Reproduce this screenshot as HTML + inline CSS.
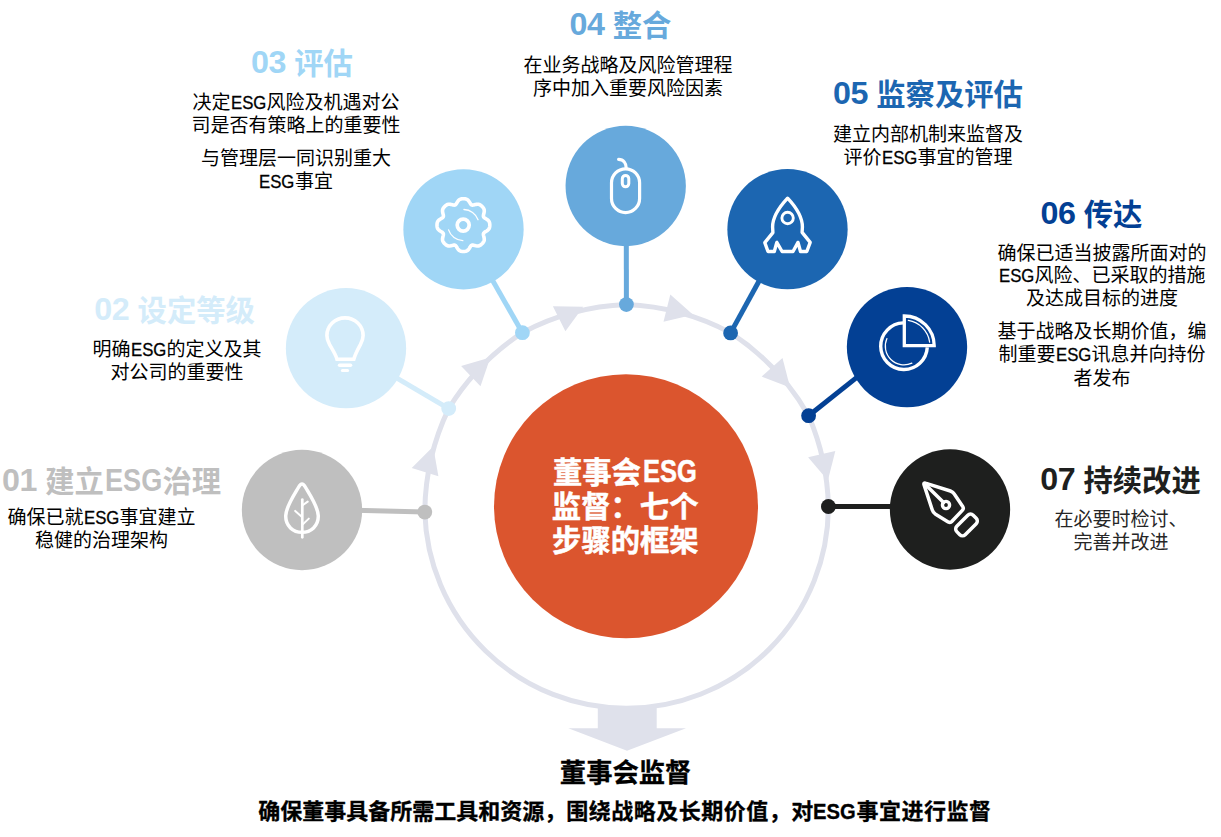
<!DOCTYPE html>
<html lang="zh-CN">
<head>
<meta charset="utf-8">
<title>董事会ESG监督：七个步骤的框架</title>
<style>
html,body{margin:0;padding:0;background:#fff;}
body{width:1221px;height:837px;position:relative;overflow:hidden;font-family:"Liberation Sans", "Noto Sans CJK SC", sans-serif;}
#g{position:absolute;left:0;top:0;}
h1{margin:0;font-size:inherit;font-weight:inherit;}
.t{position:absolute;margin:0;padding:0;width:800px;text-align:center;white-space:nowrap;}
.l{display:inline-block;font-size:.95em;transform:scaleX(.93);transform-origin:0 50%;margin-left:.02em;margin-right:-.127em;-webkit-text-stroke:.3px currentColor;}
.lb2{display:inline-block;font-size:1.02em;transform:scaleX(.9);transform-origin:0 50%;margin-left:0;margin-right:-.19em;}
.sp{letter-spacing:.5px;}
.sb{letter-spacing:.5px;}
.b{-webkit-text-stroke:.3px #000;}
.c{-webkit-text-stroke:.5px #fff;}
.n{font-size:1.1em;letter-spacing:-.4px;position:relative;top:-1px;}
.lb{display:inline-block;font-size:1.1em;transform:scaleX(.84);transform-origin:0 50%;margin-left:.04em;margin-right:-.335em;position:relative;top:-1px;}
</style>
</head>
<body>
<svg id="g" width="1221" height="837" viewBox="0 0 1221 837">
<path d="M424.8 512.1 A243 243 0 0 1 448.7 408.6 A243 243 0 0 1 522.4 332.7 A243 243 0 0 1 626.4 304.6 A243 243 0 0 1 730.6 332.9 A243 243 0 0 1 808.6 415.7 A243 243 0 0 1 828.4 506.5 A201.7 201.8 0 0 1 626.0 708.2 A201.7 201.8 0 0 1 424.8 512.1 Z" fill="none" stroke="#dfe1eb" stroke-width="5" stroke-linejoin="round"/>
<polygon points="433.2,446.4 438.4,476.3 411.7,467.9" fill="#dfe1eb"/>
<polygon points="490.3,357.5 480.5,386.3 461.1,366.0" fill="#dfe1eb"/>
<polygon points="583.3,306.7 565.4,331.3 552.9,306.3" fill="#dfe1eb"/>
<polygon points="693.1,314.8 663.5,321.7 670.3,294.6" fill="#dfe1eb"/>
<polygon points="790.1,387.4 761.7,376.6 782.5,358.0" fill="#dfe1eb"/>
<polygon points="827.9,480.4 808.1,457.3 835.3,450.9" fill="#dfe1eb"/>
<polygon points="597.8,706 656.7,706 656.7,728.2 686,728.2 627,750.8 568.3,728.2 597.8,728.2" fill="#dfe1eb"/>
<line x1="355.0" y1="510.3" x2="424.8" y2="512.1" stroke="#bfbfbf" stroke-width="5"/>
<circle cx="424.8" cy="512.1" r="7.4" fill="#bfbfbf"/>
<line x1="346.0" y1="348.2" x2="448.7" y2="408.6" stroke="#d4ecfa" stroke-width="5"/>
<circle cx="448.7" cy="408.6" r="7.4" fill="#d4ecfa"/>
<line x1="463.5" y1="229.3" x2="522.4" y2="332.7" stroke="#a0d6f6" stroke-width="5"/>
<circle cx="522.4" cy="332.7" r="7.4" fill="#a0d6f6"/>
<line x1="626.3" y1="240.0" x2="626.4" y2="304.6" stroke="#67a9dc" stroke-width="5"/>
<circle cx="626.4" cy="304.6" r="7.4" fill="#67a9dc"/>
<line x1="787.5" y1="229.2" x2="730.6" y2="332.9" stroke="#1c66b1" stroke-width="5"/>
<circle cx="730.6" cy="332.9" r="7.4" fill="#1c66b1"/>
<line x1="858.7" y1="375.9" x2="808.6" y2="415.7" stroke="#034094" stroke-width="5"/>
<circle cx="808.6" cy="415.7" r="7.4" fill="#034094"/>
<line x1="895.0" y1="506.5" x2="828.4" y2="506.5" stroke="#1e1f1e" stroke-width="5"/>
<circle cx="828.4" cy="506.5" r="7.4" fill="#1e1f1e"/>
<circle cx="302.0" cy="510.0" r="60.15" fill="#bfbfbf"/>
<circle cx="346.0" cy="348.2" r="60.15" fill="#d4ecfa"/>
<circle cx="463.5" cy="229.3" r="60.15" fill="#a0d6f6"/>
<circle cx="625.7" cy="186.0" r="60.15" fill="#67a9dc"/>
<circle cx="787.5" cy="229.2" r="60.15" fill="#1c66b1"/>
<circle cx="907.0" cy="347.1" r="60.15" fill="#034094"/>
<circle cx="950.0" cy="509.5" r="60.15" fill="#1e1f1e"/>
<circle cx="626" cy="506.2" r="132" fill="#db552e"/>
<g fill="none" stroke="#fff" stroke-linecap="round" stroke-linejoin="round" stroke-width="3.5"><path d="M298.7 487 C299.8 485 300.8 483.9 302 483.9 C303.2 483.9 304.2 485 305.3 487 C309 493.5 318.3 507 318.3 516 C318.3 526 311 532.3 302 532.3 C293 532.3 285.7 526 285.7 516 C285.7 507 295 493.5 298.7 487 Z"/></g>
<g fill="none" stroke="#fff" stroke-linecap="round" stroke-linejoin="round"><path d="M302.3 499.6 V537.3" stroke-width="2.7"/><path d="M302.6 505.3 L307.7 501.6 M302 517 L295.2 510.9 M302.8 524.4 L308.8 518.6" stroke-width="2"/></g>
<g fill="none" stroke="#fff" stroke-linecap="round" stroke-linejoin="round" stroke-width="3.6"><path d="M337 359.3 H353.8 C355.4 353.6 358.2 348.8 360.4 344.6 C362.2 341.4 363.1 338.4 363.1 335.5 C363.1 325.8 355 317.9 345 317.9 C335 317.9 326.9 325.8 326.9 335.5 C326.9 338.4 327.8 341.4 329.6 344.6 C331.8 348.8 335.4 353.6 337 359.3 Z" stroke-linejoin="miter"/><path d="M339.6 365.2 H350.5"/><path d="M342.4 370.6 H347.6" stroke-width="3"/></g>
<g fill="none" stroke="#fff" stroke-linecap="round" stroke-linejoin="round"><path d="M489.80 225.10 L489.78 225.79 L489.73 226.48 L489.63 227.16 L489.45 227.84 L489.18 228.49 L488.80 229.12 L488.31 229.72 L487.71 230.27 L487.02 230.77 L486.29 231.23 L485.56 231.66 L484.88 232.08 L484.29 232.50 L483.84 232.95 L483.54 233.44 L483.40 234.00 L483.41 234.64 L483.52 235.35 L483.71 236.13 L483.92 236.95 L484.11 237.79 L484.24 238.63 L484.27 239.45 L484.20 240.22 L484.03 240.93 L483.75 241.58 L483.40 242.18 L482.99 242.74 L482.54 243.27 L482.07 243.77 L481.57 244.24 L481.04 244.69 L480.48 245.10 L479.88 245.45 L479.23 245.73 L478.52 245.90 L477.75 245.97 L476.93 245.94 L476.09 245.81 L475.25 245.62 L474.43 245.41 L473.65 245.22 L472.94 245.11 L472.30 245.10 L471.74 245.24 L471.25 245.54 L470.80 245.99 L470.38 246.58 L469.96 247.26 L469.53 247.99 L469.07 248.72 L468.57 249.41 L468.02 250.01 L467.42 250.50 L466.79 250.88 L466.14 251.15 L465.46 251.33 L464.78 251.43 L464.09 251.48 L463.40 251.50 L462.71 251.48 L462.02 251.43 L461.34 251.33 L460.66 251.15 L460.01 250.88 L459.38 250.50 L458.78 250.01 L458.23 249.41 L457.73 248.72 L457.27 247.99 L456.84 247.26 L456.42 246.58 L456.00 245.99 L455.55 245.54 L455.06 245.24 L454.50 245.10 L453.86 245.11 L453.15 245.22 L452.37 245.41 L451.55 245.62 L450.71 245.81 L449.87 245.94 L449.05 245.97 L448.28 245.90 L447.57 245.73 L446.92 245.45 L446.32 245.10 L445.76 244.69 L445.23 244.24 L444.73 243.77 L444.26 243.27 L443.81 242.74 L443.40 242.18 L443.05 241.58 L442.77 240.93 L442.60 240.22 L442.53 239.45 L442.56 238.63 L442.69 237.79 L442.88 236.95 L443.09 236.13 L443.28 235.35 L443.39 234.64 L443.40 234.00 L443.26 233.44 L442.96 232.95 L442.51 232.50 L441.92 232.08 L441.24 231.66 L440.51 231.23 L439.78 230.77 L439.09 230.27 L438.49 229.72 L438.00 229.12 L437.62 228.49 L437.35 227.84 L437.17 227.16 L437.07 226.48 L437.02 225.79 L437.00 225.10 L437.02 224.41 L437.07 223.72 L437.17 223.04 L437.35 222.36 L437.62 221.71 L438.00 221.08 L438.49 220.48 L439.09 219.93 L439.78 219.43 L440.51 218.97 L441.24 218.54 L441.92 218.12 L442.51 217.70 L442.96 217.25 L443.26 216.76 L443.40 216.20 L443.39 215.56 L443.28 214.85 L443.09 214.07 L442.88 213.25 L442.69 212.41 L442.56 211.57 L442.53 210.75 L442.60 209.98 L442.77 209.27 L443.05 208.62 L443.40 208.02 L443.81 207.46 L444.26 206.93 L444.73 206.43 L445.23 205.96 L445.76 205.51 L446.32 205.10 L446.92 204.75 L447.57 204.47 L448.28 204.30 L449.05 204.23 L449.87 204.26 L450.71 204.39 L451.55 204.58 L452.37 204.79 L453.15 204.98 L453.86 205.09 L454.50 205.10 L455.06 204.96 L455.55 204.66 L456.00 204.21 L456.42 203.62 L456.84 202.94 L457.27 202.21 L457.73 201.48 L458.23 200.79 L458.78 200.19 L459.38 199.70 L460.01 199.32 L460.66 199.05 L461.34 198.87 L462.02 198.77 L462.71 198.72 L463.40 198.70 L464.09 198.72 L464.78 198.77 L465.46 198.87 L466.14 199.05 L466.79 199.32 L467.42 199.70 L468.02 200.19 L468.57 200.79 L469.07 201.48 L469.53 202.21 L469.96 202.94 L470.38 203.62 L470.80 204.21 L471.25 204.66 L471.74 204.96 L472.30 205.10 L472.94 205.09 L473.65 204.98 L474.43 204.79 L475.25 204.58 L476.09 204.39 L476.93 204.26 L477.75 204.23 L478.52 204.30 L479.23 204.47 L479.88 204.75 L480.48 205.10 L481.04 205.51 L481.57 205.96 L482.07 206.43 L482.54 206.93 L482.99 207.46 L483.40 208.02 L483.75 208.62 L484.03 209.27 L484.20 209.98 L484.27 210.75 L484.24 211.57 L484.11 212.41 L483.92 213.25 L483.71 214.07 L483.52 214.85 L483.41 215.56 L483.40 216.20 L483.54 216.76 L483.84 217.25 L484.29 217.70 L484.88 218.12 L485.56 218.54 L486.29 218.97 L487.02 219.43 L487.71 219.93 L488.31 220.48 L488.80 221.08 L489.18 221.71 L489.45 222.36 L489.63 223.04 L489.73 223.72 L489.78 224.41 Z" stroke-width="3.6"/><circle cx="463.2" cy="225.1" r="6" stroke-width="3.7"/><path d="M463.94 209.51 A15.6 15.6 0 0 1 478.06 219.76" stroke-width="1.3"/><path d="M462.86 240.69 A15.6 15.6 0 0 1 448.56 229.92" stroke-width="1.3"/></g>
<g fill="none" stroke="#fff" stroke-linecap="round" stroke-linejoin="round" stroke-width="3.2"><rect x="611.5" y="168.8" width="28.1" height="43.8" rx="14.05"/><rect x="622.3" y="175.4" width="6.5" height="11.4" rx="3.25" stroke-width="3"/><path d="M626.3 168.4 C626.3 163.2 623.4 159.4 618.6 159.3"/></g>
<g fill="none" stroke="#fff" stroke-linecap="round" stroke-linejoin="round" stroke-width="3.4" stroke-linejoin="miter"><path d="M787.6 198.2 C793.6 204.6 802.4 215 802.4 227 L802.1 232.4 L810.2 242.4 L806.8 251.5 H800.5 L798 242.4 L793 251.5 H782.1 L776.8 242.4 L774.3 251.5 H768 L764.8 242.6 L772.9 232.6 L772.6 227 C772.6 215 781.6 204.6 787.6 198.2 Z"/><circle cx="787.6" cy="218" r="5.7" stroke-width="2.9"/></g>
<g fill="none" stroke="#fff" stroke-linecap="round" stroke-linejoin="round"><path d="M927.27 347.42 A23.3 23.3 0 1 1 903.19 322.91" stroke-width="3.4" stroke-linecap="butt"/><path d="M904.3 345.7 V316 A29.9 29.9 0 0 1 934.2 345.7 Z" stroke-width="3.3" stroke-linejoin="miter"/><path d="M908.30 320.42 A25.6 25.6 0 0 1 929.65 342.14" stroke-width="1.2"/><path d="M911.90 363.15 A18.7 18.7 0 0 1 886.92 338.59" stroke-width="1.2"/></g>
<g fill="none" stroke="#fff" stroke-linecap="round" stroke-linejoin="round" stroke-width="3.5"><path d="M925.4 483.2 L950.4 491 C952.4 491.7 953.6 492.7 954.6 494.4 L962.7 506.4 C963.6 507.8 963.4 509.2 962.3 510.4 L952 521.3 C951 522.5 949.6 522.7 948.2 521.9 L935.6 514.2 C933.9 513.1 932.9 512 932.3 510 L924 484.6 C923.6 483.4 924.3 482.8 925.4 483.2 Z"/><path d="M925.6 484.8 L943.6 502.6" /><circle cx="946" cy="505" r="3.6" stroke-width="3.4"/><rect x="-11.6" y="-5.95" width="23.2" height="11.9" rx="3.8" transform="translate(966.5 524.95) rotate(-45)"/></g>
</svg>
<section class="step s01">
<h2 class="t" style="left:-288.4px;top:462.2px;font-size:29.33px;line-height:38px;color:#bfbfbf;font-weight:700"><span class="n">01</span> 建立<span class="lb">ESG</span>治理</h2>
<p class="t" style="left:-298.5px;top:504.7px;font-size:19px;line-height:25px;color:#000;font-weight:400">确保已就<span class="l">ESG</span>事宜建立</p>
<p class="t" style="left:-298.5px;top:527.7px;font-size:19px;line-height:25px;color:#000;font-weight:400">稳健的治理架构</p>
</section>
<section class="step s02">
<h2 class="t" style="left:-225.4px;top:291.2px;font-size:29.33px;line-height:38px;color:#d4ecfa;font-weight:700"><span class="n">02</span> 设定等级</h2>
<p class="t" style="left:-223.0px;top:336.7px;font-size:19px;line-height:25px;color:#000;font-weight:400">明确<span class="l">ESG</span>的定义及其</p>
<p class="t" style="left:-223.0px;top:359.7px;font-size:19px;line-height:25px;color:#000;font-weight:400">对公司的重要性</p>
</section>
<section class="step s03">
<h2 class="t" style="left:-98.0px;top:44.2px;font-size:29.33px;line-height:38px;color:#a0d6f6;font-weight:700"><span class="n">03</span> 评估</h2>
<p class="t" style="left:-104.0px;top:89.7px;font-size:19px;line-height:25px;color:#000;font-weight:400">决定<span class="l">ESG</span>风险及机遇对公</p>
<p class="t" style="left:-104.0px;top:112.7px;font-size:19px;line-height:25px;color:#000;font-weight:400">司是否有策略上的重要性</p>
<p class="t" style="left:-104.0px;top:145.7px;font-size:19px;line-height:25px;color:#000;font-weight:400">与管理层一同识别重大</p>
<p class="t" style="left:-104.0px;top:168.7px;font-size:19px;line-height:25px;color:#000;font-weight:400"><span class="l">ESG</span>事宜</p>
</section>
<section class="step s04">
<h2 class="t" style="left:220.5px;top:6.2px;font-size:29.33px;line-height:38px;color:#67a9dc;font-weight:700"><span class="n">04</span> 整合</h2>
<p class="t" style="left:228.0px;top:52.7px;font-size:19px;line-height:25px;color:#000;font-weight:400">在业务战略及风险管理程</p>
<p class="t" style="left:228.0px;top:75.7px;font-size:19px;line-height:25px;color:#000;font-weight:400">序中加入重要风险因素</p>
</section>
<section class="step s05">
<h2 class="t" style="left:528.0px;top:75.2px;font-size:29.33px;line-height:38px;color:#1c66b1;font-weight:700"><span class="n">05</span> 监察及评估</h2>
<p class="t" style="left:528.0px;top:121.7px;font-size:19px;line-height:25px;color:#000;font-weight:400">建立内部机制来监督及</p>
<p class="t" style="left:528.0px;top:144.7px;font-size:19px;line-height:25px;color:#000;font-weight:400">评价<span class="l">ESG</span>事宜的管理</p>
</section>
<section class="step s06">
<h2 class="t" style="left:691.5px;top:195.2px;font-size:29.33px;line-height:38px;color:#034094;font-weight:700"><span class="n">06</span> 传达</h2>
<p class="t" style="left:702.0px;top:240.7px;font-size:19px;line-height:25px;color:#000;font-weight:400">确保已适当披露所面对的</p>
<p class="t" style="left:702.0px;top:263.2px;font-size:19px;line-height:25px;color:#000;font-weight:400"><span class="l">ESG</span>风险、已采取的措施</p>
<p class="t" style="left:702.0px;top:285.7px;font-size:19px;line-height:25px;color:#000;font-weight:400">及达成目标的进度</p>
<p class="t" style="left:702.0px;top:318.7px;font-size:19px;line-height:25px;color:#000;font-weight:400">基于战略及长期价值，编</p>
<p class="t" style="left:702.0px;top:342.2px;font-size:19px;line-height:25px;color:#000;font-weight:400">制重要<span class="l">ESG</span>讯息并向持份</p>
<p class="t" style="left:702.0px;top:365.7px;font-size:19px;line-height:25px;color:#000;font-weight:400">者发布</p>
</section>
<section class="step s07">
<h2 class="t" style="left:720.5px;top:461.2px;font-size:29.33px;line-height:38px;color:#1e1f1e;font-weight:700"><span class="n">07</span> 持续改进</h2>
<p class="t" style="left:721.0px;top:506.7px;font-size:19px;line-height:25px;color:#262626;font-weight:400">在必要时检讨、</p>
<p class="t" style="left:721.0px;top:529.7px;font-size:19px;line-height:25px;color:#262626;font-weight:400">完善并改进</p>
</section>
<section class="hub">
<h1>
<span class="t c" style="left:225.3px;top:453.2px;font-size:29.33px;line-height:38px;color:#fff;font-weight:700">董事会<span class="lb" style="transform:scaleX(.79);margin-left:.06em;margin-right:-.41em">ESG</span></span>
<span class="t c" style="left:225.2px;top:487.8px;font-size:29.33px;line-height:38px;color:#fff;font-weight:700">监督：七个</span>
<span class="t c" style="left:225.4px;top:522.2px;font-size:29.33px;line-height:38px;color:#fff;font-weight:700">步骤的框架</span>
</h1>
</section>
<section class="outcome">
<h2 class="t b" style="left:225.6px;top:755.7px;font-size:26.3px;line-height:34px;color:#000;font-weight:700">董事会监督</h2>
<p class="t b" style="left:258.2px;top:797.2px;width:auto;text-align:left;font-size:22px;line-height:29px;color:#000;font-weight:700">确保董事具备所需工具和资源，<span class="sb">围绕战略及长期价值，</span>对<span class="lb2">ESG</span><span class="sp">事宜进行监督</span></p>
</section>
</body>
</html>
